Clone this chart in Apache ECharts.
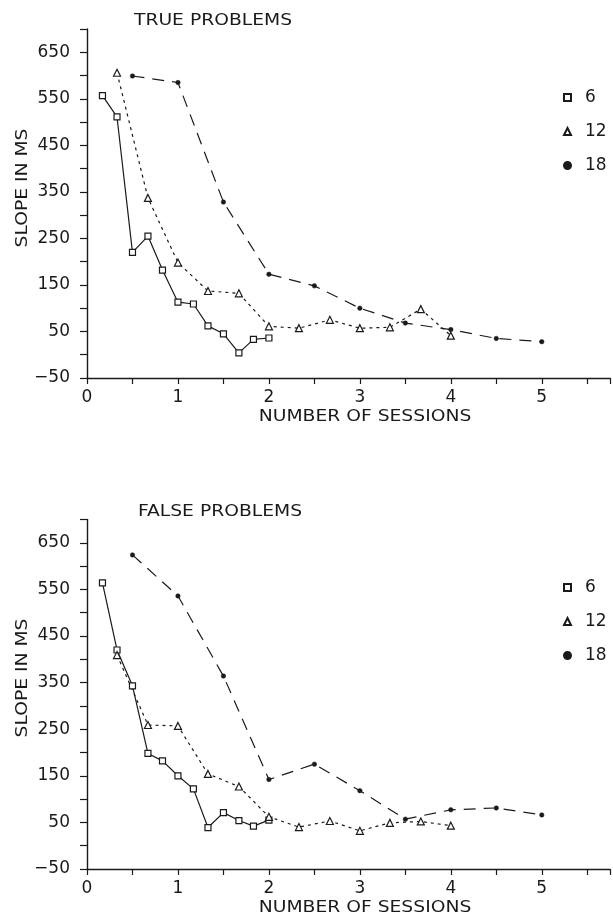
<!DOCTYPE html>
<html>
<head>
<meta charset="utf-8">
<script src="https://cdn.jsdelivr.net/npm/echarts@6/dist/echarts.min.js"></script>
<style>
  html, body { margin: 0; padding: 0; background: #fff; }
  #chart { width: 613px; height: 918px; }
</style>
</head>
<body>
<div id="chart"></div>
<script>
// x positions (number of sessions) for each set size
const sessions6 = [0.17, 0.33, 0.5, 0.67, 0.83, 1, 1.17, 1.33, 1.5, 1.67, 1.83, 2]
const sessions12 = [0.33, 0.67, 1, 1.33, 1.67, 2, 2.33, 2.67, 3, 3.33, 3.67, 4]
const sessions18 = [0.5, 1, 1.5, 2, 2.5, 3, 3.5, 4, 4.5, 5]

// slope in ms, true problems
const trueSlope6 = [557, 511, 220, 255, 182, 113, 109, 62, 45, 4, 33, 36]
const trueSlope12 = [606, 337, 198, 137, 132, 61, 57, 75, 57, 59, 98, 41]
const trueSlope18 = [599, 585, 328, 173, 148, 100, 68, 54, 35, 28]

// slope in ms, false problems
const falseSlope6 = [564, 420, 343, 198, 182, 150, 122, 39, 71, 54, 42, 55]
const falseSlope12 = [409, 259, 257, 154, 127, 62, 40, 53, 32, 49, 52, 43]
const falseSlope18 = [624, 536, 364, 142, 175, 118, 57, 77, 81, 66]

const setSizes = ['6', '12', '18']
const yTickLabels = [-50, 50, 150, 250, 350, 450, 550, 650]
const xTickLabels = [0, 1, 2, 3, 4, 5]
const panelTitles = ['TRUE PROBLEMS', 'FALSE PROBLEMS']

const FONT = 'DejaVu Sans'
const INK = '#1a1a1a'

const chart = echarts.init(document.getElementById('chart'))

// 把x和y拼成点
function pairs (xs, ys) {
  return xs.map((x, i) => [x, ys[i]])
}

function xAxisFor (idx) {
  return {
    type: 'value',
    gridIndex: idx,
    min: 0,
    max: 5.75,
    interval: 0.5,
    axisLine: { onZero: false, lineStyle: { color: INK, width: 1.4 } },
    axisTick: { length: 6, lineStyle: { color: INK, width: 1.2 } },
    axisLabel: {
      margin: 11,
      fontFamily: FONT,
      fontSize: 17,
      color: INK,
      formatter: v => (xTickLabels.indexOf(v) >= 0 ? String(v) : '')
    },
    splitLine: { show: false }
  }
}

function yAxisFor (idx) {
  return {
    type: 'value',
    gridIndex: idx,
    min: -50,
    max: 700,
    interval: 50,
    axisLine: { show: true, onZero: false, lineStyle: { color: INK, width: 1.4 } },
    axisTick: { show: true, length: 7, lineStyle: { color: INK, width: 1.2 } },
    axisLabel: {
      margin: 17,
      fontFamily: FONT,
      fontSize: 17,
      color: INK,
      formatter: v => (yTickLabels.indexOf(v) >= 0 ? String(v).replace('-', '\u2212') : '')
    },
    splitLine: { show: false }
  }
}

function seriesFor (idx, d6, d12, d18) {
  const base = {
    type: 'line',
    xAxisIndex: idx,
    yAxisIndex: idx,
    silent: true
  }
  return [
    Object.assign({}, base, {
      name: '6',
      data: pairs(sessions6, d6),
      symbol: 'rect',
      symbolSize: 6,
      itemStyle: { color: '#fff', borderColor: INK, borderWidth: 1.2 },
      lineStyle: { color: INK, width: 1.2, type: 'solid' }
    }),
    Object.assign({}, base, {
      name: '12',
      data: pairs(sessions12, d12),
      symbol: 'triangle',
      symbolSize: 7,
      itemStyle: { color: '#fff', borderColor: INK, borderWidth: 1.2 },
      lineStyle: { color: INK, width: 1.2, type: [3, 4] }
    }),
    Object.assign({}, base, {
      name: '18',
      data: pairs(sessions18, d18),
      symbol: 'circle',
      symbolSize: 4.5,
      itemStyle: { color: INK, borderColor: INK, borderWidth: 0.5 },
      lineStyle: { color: INK, width: 1.2, type: [12, 8] }
    })
  ]
}

function legendFor (top) {
  return {
    orient: 'vertical',
    left: 563,
    top: top,
    padding: 0,
    itemWidth: 7,
    itemHeight: 7,
    itemGap: 17,
    selectedMode: false,
    textStyle: { fontFamily: FONT, fontSize: 17, color: INK, padding: [0, 0, 0, 9] },
    data: [
      { name: setSizes[0], icon: 'rect' },
      { name: setSizes[1], icon: 'triangle' },
      { name: setSizes[2], icon: 'circle', itemStyle: { color: INK } }
    ]
  }
}

// 文字(标题和坐标轴名称)，字体偏宽，横向拉伸一点
function panelText (x, y, text, rotate) {
  return {
    type: 'text',
    x: x,
    y: y,
    rotation: rotate ? Math.PI / 2 : 0,
    scaleX: 1.17,
    style: {
      text: text,
      fontFamily: FONT,
      fontSize: 16,
      fill: INK,
      align: 'center',
      verticalAlign: 'middle'
    }
  }
}

chart.setOption({
  animation: false,
  backgroundColor: '#fff',
  grid: [
    { left: 87, top: 29, width: 554, height: 349 },
    { left: 87, top: 519.5, width: 554, height: 349.5 }
  ],
  xAxis: [xAxisFor(0), xAxisFor(1)],
  yAxis: [yAxisFor(0), yAxisFor(1)],
  legend: [legendFor(89), legendFor(579)],
  graphic: [
    panelText(213, 21, panelTitles[0], false),
    panelText(220, 512, panelTitles[1], false),
    panelText(23, 188, 'SLOPE IN MS', true),
    panelText(23, 678, 'SLOPE IN MS', true),
    panelText(365, 417, 'NUMBER OF SESSIONS', false),
    panelText(365, 908, 'NUMBER OF SESSIONS', false)
  ],
  series: seriesFor(0, trueSlope6, trueSlope12, trueSlope18)
    .concat(seriesFor(1, falseSlope6, falseSlope12, falseSlope18))
})
</script>
</body>
</html>
